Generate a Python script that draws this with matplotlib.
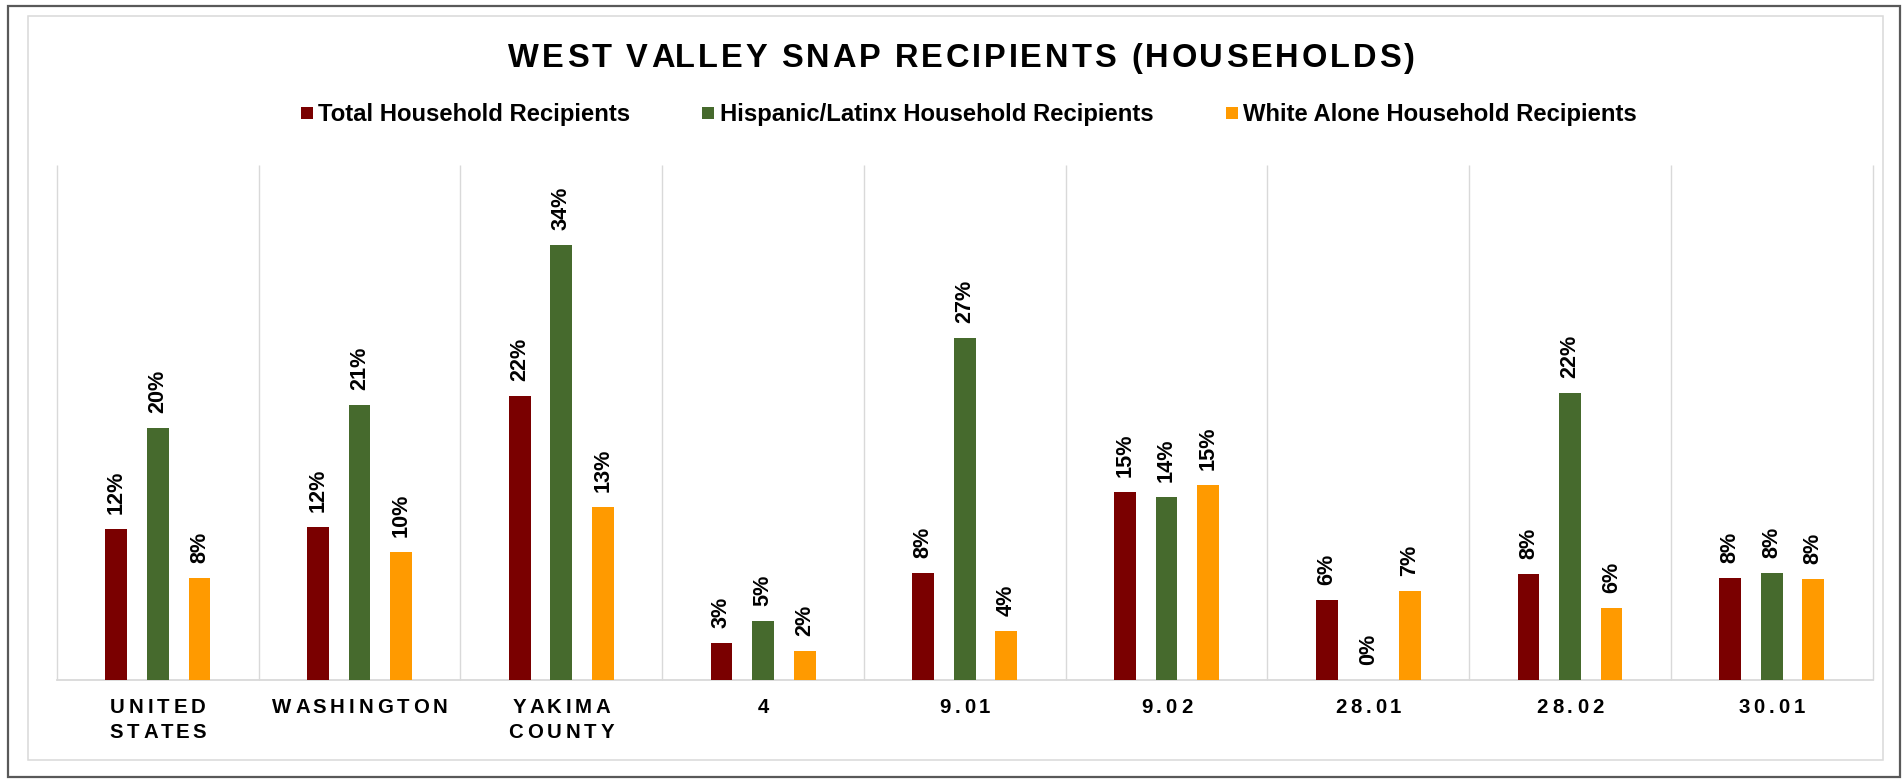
import numpy as np
import matplotlib
matplotlib.use("Agg")
import matplotlib.pyplot as plt
from matplotlib.text import Text
from matplotlib.transforms import IdentityTransform, blended_transform_factory
from matplotlib.patches import Rectangle
from matplotlib.lines import Line2D

# ---------------- data ----------------
categories = ["UNITED\nSTATES", "WASHINGTON", "YAKIMA\nCOUNTY", "4", "9.01",
              "9.02", "28.01", "28.02", "30.01"]
series_names = ["Total Household Recipients",
                "Hispanic/Latinx Household Recipients",
                "White Alone Household Recipients"]
total_pct = [11.74, 11.87, 22.08, 2.89, 8.28, 14.61, 6.24, 8.20, 7.94]
hispanic_pct = [19.58, 21.36, 33.80, 4.55, 26.55, 14.23, 0.0, 22.30, 8.33]
white_pct = [7.94, 9.96, 13.45, 2.25, 3.80, 15.18, 6.90, 5.56, 7.84]
title_text = "WEST VALLEY SNAP RECIPIENTS (HOUSEHOLDS)"

colors = ["#7A0000", "#466A2D", "#FF9A00"]
FONT = "Liberation Sans"

W, H = 1904, 781
plt.rcParams["font.family"] = [FONT, "DejaVu Sans"]


class TrackedText(Text):
    """Text with extra letter spacing (tracking, in pixels)."""

    def __init__(self, x, y, text, tracking=0.0, line_gap=0.0, **kw):
        super().__init__(x, y, text, **kw)
        self._tracking = tracking
        self._line_gap = line_gap

    def draw(self, renderer):
        if renderer is None or not self.get_visible():
            return
        text = self.get_text()
        if not text:
            return
        prop = self.get_fontproperties()
        px, py = self.get_transform().transform(self.get_unitless_position())

        def w(s):
            return renderer.get_text_width_height_descent(s, prop, ismath=False)[0]

        ha = self.get_horizontalalignment()
        ref = w("x")
        for li, line in enumerate(text.split("\n")):
            offs = [w(line[:i] + "x") - ref + i * self._tracking for i in range(len(line))]
            total = w(line) + self._tracking * (len(line) - 1)
            if ha == "center":
                start = px - total / 2
            elif ha == "right":
                start = px - total
            else:
                start = px
            by = py - li * self._line_gap
            for ch, off in zip(line, offs):
                if ch == " ":
                    continue
                t = Text(start + off, by, ch, fontproperties=prop, color=self.get_color(),
                         ha="left", va="baseline", transform=IdentityTransform())
                t.set_figure(self.figure)
                t.draw(renderer)


fig = plt.figure(figsize=(W / 100, H / 100), dpi=100)
fig.patch.set_facecolor("white")

# frames
fig.add_artist(Rectangle((8 / W, (H - 777) / H), (1900 - 8) / W, (777 - 6) / H,
                         transform=fig.transFigure, fill=False, ec="#595959", lw=1.6))
fig.add_artist(Rectangle((28 / W, (H - 760) / H), (1883 - 28) / W, (760 - 16) / H,
                         transform=fig.transFigure, fill=False, ec="#D9D9D9", lw=1.1))

ax_l, ax_r, ax_t, ax_b = 57, 1872.6, 165, 680
ax = fig.add_axes([ax_l / W, (H - ax_b) / H, (ax_r - ax_l) / W, (ax_b - ax_t) / H])
ax.set_facecolor("none")

x = np.arange(len(categories))
offsets = [-0.206, 0.0, 0.206]
bw = 0.108
for vals, off, c in zip([total_pct, hispanic_pct, white_pct], offsets, colors):
    bars = ax.bar(x + off, vals, width=bw, color=c, zorder=3)
    for b, v in zip(bars, vals):
        ax.annotate(f"{v:.0f}%", (b.get_x() + b.get_width() / 2, b.get_height()),
                    xytext=(0, 15), textcoords="offset pixels", rotation=90,
                    ha="center", va="bottom", fontsize=15.6, fontweight="bold",
                    color="black", family=FONT, zorder=4)

ax.set_xlim(-0.5, len(categories) - 0.5)
ax.set_ylim(0, 40)
ax.vlines(np.arange(len(categories) + 1) - 0.5, 0, 40, colors="#D9D9D9", lw=1.0,
          clip_on=False, zorder=1)
for s in ["top", "left", "right"]:
    ax.spines[s].set_visible(False)
ax.spines["bottom"].set_color("#D9D9D9")
ax.spines["bottom"].set_linewidth(1.3)
ax.spines["bottom"].set_zorder(2)
ax.set_xticks([])
ax.set_yticks([])

# category labels (tracked text)
trans = blended_transform_factory(ax.transData, fig.transFigure)
for xi, lab in zip(x, categories):
    fig.add_artist(TrackedText(xi, 1 - 713.3 / H, lab, tracking=3.9, line_gap=24.4,
                               transform=trans, ha="center", fontsize=14.7,
                               fontweight="bold", family=FONT, color="black"))

# title
fig.add_artist(TrackedText(961.5 / W, 1 - 66.7 / H, title_text, tracking=2.9,
                           transform=fig.transFigure, ha="center", fontsize=23.5,
                           fontweight="bold", family=FONT, color="black"))

# legend
handles = [Line2D([], [], marker="s", linestyle="", markersize=9.2, color=c,
                  markeredgewidth=0) for c in colors]
fig.legend(handles, series_names, loc="center", bbox_to_anchor=(968.5 / W, 1 - 115 / H),
           ncol=3, frameon=False, columnspacing=3.0, handletextpad=0.2,
           handlelength=0.55, borderpad=0, borderaxespad=0,
           prop={"family": FONT, "weight": "bold", "size": 17.2})

fig.savefig("out.png", dpi=100)
